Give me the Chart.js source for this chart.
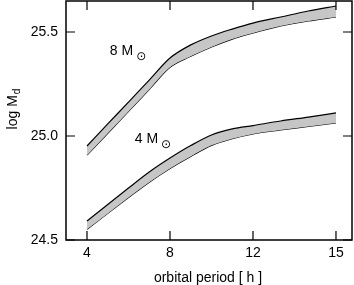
<!DOCTYPE html>
<html>
<head>
<meta charset="utf-8">
<script src="https://cdn.jsdelivr.net/npm/chart.js@4"></script>
<style>
  body { margin: 0; background: #fff; }
  canvas { display: block; }
</style>
</head>
<body>
<canvas id="chart" width="354" height="285"></canvas>
<script>
// tick periods on the x axis (they are evenly spaced in the figure)
const periodTicks = [4, 8, 12, 15];
const yTicks = [24.5, 25.0, 25.5];

// orbital period [h]
const periods = [4, 5, 6, 7, 8, 9, 10, 11, 12, 13, 14, 15];

// 8 Msun band, upper and lower edge (log Md)
const upper8 = [24.952, 25.058, 25.163, 25.269, 25.375, 25.438, 25.481, 25.514, 25.543, 25.572, 25.601, 25.625];
const lower8 = [24.908, 25.013, 25.118, 25.224, 25.330, 25.383, 25.428, 25.466, 25.495, 25.529, 25.553, 25.572];

// 4 Msun band
const upper4 = [24.591, 24.671, 24.750, 24.827, 24.894, 24.954, 25.005, 25.034, 25.050, 25.072, 25.091, 25.111];
const lower4 = [24.552, 24.628, 24.704, 24.778, 24.844, 24.902, 24.955, 24.987, 25.010, 25.029, 25.046, 25.063];

// band labels: [main text, period, log Md]
const bandLabels = [["8 M", 5.1, 25.389], ["4 M", 6.3, 24.966]];

// period -> position along the axis (ticks are drawn evenly spaced)
function periodPos(p) {
  for (let i = 0; i < periodTicks.length - 1; i++) {
    const a = periodTicks[i], b = periodTicks[i + 1];
    if (p <= b || i === periodTicks.length - 2) return i + (p - a) / (b - a);
  }
}

const FONT = "'Liberation Sans', Arial, Helvetica, sans-serif";
Chart.defaults.font.family = FONT;
Chart.defaults.font.size = 14;
Chart.defaults.color = "#000";

function band(vals, fill) {
  return {
    data: periods.map((p, i) => ({ x: periodPos(p), y: vals[i] })),
    borderColor: "#000",
    borderWidth: 1.2,
    backgroundColor: "#c6c6c6",
    fill: fill,
    pointRadius: 0,
    cubicInterpolationMode: "monotone",
  };
}

const framePlugin = {
  id: "frame",
  afterDraw(chart) {
    const { ctx, chartArea: a, scales } = chart;
    ctx.save();
    ctx.strokeStyle = "#000";
    ctx.lineWidth = 1.5;
    ctx.strokeRect(a.left, a.top, a.right - a.left, a.bottom - a.top);
    ctx.lineWidth = 1.2;
    ctx.beginPath();
    const len = 9;
    periodTicks.forEach((p, i) => {
      const x = scales.x.getPixelForValue(i);
      ctx.moveTo(x, a.bottom); ctx.lineTo(x, a.bottom - len);
      ctx.moveTo(x, a.top); ctx.lineTo(x, a.top + len);
    });
    yTicks.forEach(v => {
      const y = scales.y.getPixelForValue(v);
      ctx.moveTo(a.left, y); ctx.lineTo(a.left + len, y);
      ctx.moveTo(a.right, y); ctx.lineTo(a.right - len, y);
    });
    ctx.stroke();

    // band labels with sun symbol
    ctx.fillStyle = "#000";
    ctx.textBaseline = "alphabetic";
    ctx.textAlign = "left";
    bandLabels.forEach(([txt, p, v]) => {
      const x = scales.x.getPixelForValue(periodPos(p));
      const y = scales.y.getPixelForValue(v);
      ctx.font = "14px " + FONT;
      ctx.fillText(txt, x, y);
      const w = ctx.measureText(txt).width;
      ctx.font = "12px 'DejaVu Sans', sans-serif";
      ctx.fillText("\u2299", x + w + 3, y + 5);
    });

    // axis titles
    ctx.font = "14px " + FONT;
    ctx.textAlign = "center";
    ctx.fillText("orbital period [ h ]", (a.left + a.right) / 2 - 1, 281.5);

    ctx.save();
    ctx.translate(16.5, 109);
    ctx.rotate(-Math.PI / 2);
    ctx.textAlign = "left";
    const w1 = ctx.measureText("log M").width;
    ctx.font = "10px " + FONT;
    const w2 = ctx.measureText("d").width;
    const start = -(w1 + w2 + 1) / 2;
    ctx.font = "14px " + FONT;
    ctx.fillText("log M", start, 0);
    ctx.font = "10px " + FONT;
    ctx.fillText("d", start + w1 + 1, 3);
    ctx.restore();
    ctx.restore();
  },
};

new Chart(document.getElementById("chart"), {
  type: "line",
  data: {
    datasets: [band(upper8, "+1"), band(lower8, false), band(upper4, "+1"), band(lower4, false)],
  },
  options: {
    responsive: false,
    animation: false,
    layout: { padding: { top: 1, right: 2, left: 0, bottom: 0 } },
    plugins: { legend: { display: false }, tooltip: { enabled: false } },
    scales: {
      x: {
        type: "linear",
        min: -0.253,
        max: 3.193,
        afterBuildTicks: s => { s.ticks = periodTicks.map((p, i) => ({ value: i })); },
        afterFit: s => { s.height = 45; s.paddingLeft = 0; s.paddingRight = 0; },
        ticks: { padding: 5, callback: (v, i) => String(periodTicks[i]) },
        grid: { display: false, drawTicks: false },
        border: { display: false },
      },
      y: {
        type: "linear",
        min: 24.5,
        max: 25.649,
        afterBuildTicks: s => { s.ticks = yTicks.map(v => ({ value: v })); },
        afterFit: s => { s.width = 66; s.paddingTop = 0; s.paddingBottom = 0; },
        ticks: { padding: 8, callback: v => v.toFixed(1) },
        grid: { display: false, drawTicks: false },
        border: { display: false },
      },
    },
  },
  plugins: [framePlugin],
});
</script>
</body>
</html>
